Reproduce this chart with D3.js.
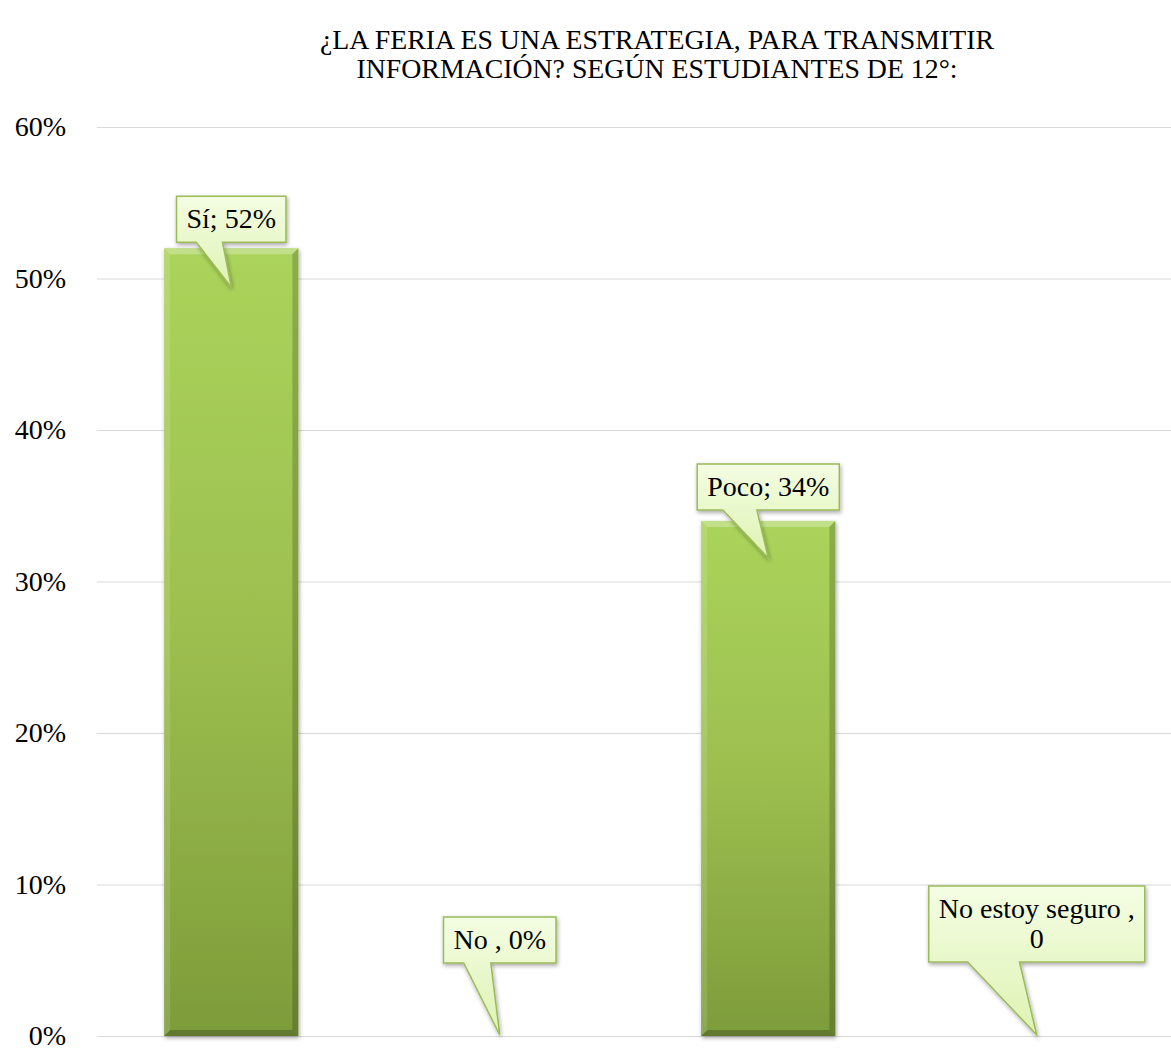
<!DOCTYPE html>
<meta charset="utf-8">
<style>
body { margin: 0; background: #fff; }
text { font-family: "Liberation Serif", "Times New Roman", serif; fill: #000; }
.grid line { stroke: #d9d9d9; stroke-width: 1; }
.tick text { font-size: 28px; font-family: "Liberation Serif", "Times New Roman", serif; }
</style>
<body>
<svg width="1171" height="1051"></svg>
<script src="https://cdn.jsdelivr.net/npm/d3@7"></script>
<script>

var titleLines = ["¿LA FERIA ES UNA ESTRATEGIA, PARA TRANSMITIR", "INFORMACIÓN? SEGÚN ESTUDIANTES DE 12°:"];
var categories = ["Sí", "No ", "Poco", "No estoy seguro "];
var values = [0.52, 0, 0.34, 0];
var labelLines = [["Sí; 52%"], ["No , 0%"], ["Poco; 34%"], ["No estoy seguro ,", "0"]];
var tickValues = [0, 0.1, 0.2, 0.3, 0.4, 0.5, 0.6];

// callout placement (tip below value, gap from tip up to box bottom)
var tipDy = [39, -1, 37, -1];
var boxGap = [45, 72, 48, 73];

var svg = d3.select("svg"),
    width = +svg.attr("width"),
    height = +svg.attr("height");

var margin = {left: 97, right: 0, top: 127, bottom: 15};

var x = d3.scaleBand()
    .domain(categories)
    .range([margin.left, width - margin.right])
    .paddingInner(0.5)
    .paddingOuter(0.25);

var y = d3.scaleLinear()
    .domain([0, 0.6])
    .range([height - margin.bottom, margin.top]);

var defs = svg.append("defs");

var bg = defs.append("linearGradient").attr("id", "barGrad")
    .attr("x1", 0).attr("y1", 0).attr("x2", 0).attr("y2", 1);
bg.append("stop").attr("offset", "0%").attr("stop-color", "#abd45b");
bg.append("stop").attr("offset", "50%").attr("stop-color", "#9cbe4f");
bg.append("stop").attr("offset", "100%").attr("stop-color", "#7d9c3a");

var cg = defs.append("linearGradient").attr("id", "callGrad")
    .attr("x1", 0).attr("y1", 0).attr("x2", 0).attr("y2", 1);
cg.append("stop").attr("offset", "0%").attr("stop-color", "#f4fde3");
cg.append("stop").attr("offset", "100%").attr("stop-color", "#def3b3");

var sh = defs.append("filter").attr("id", "shadow")
    .attr("x", "-20%").attr("y", "-20%").attr("width", "140%").attr("height", "140%");
sh.append("feDropShadow").attr("dx", 1).attr("dy", 2).attr("stdDeviation", 2)
    .attr("flood-color", "#000").attr("flood-opacity", 0.35);

// gridlines + axis labels
svg.append("g")
    .attr("class", "grid")
    .attr("transform", "translate(" + margin.left + ",0)")
    .call(d3.axisLeft(y).tickValues(tickValues).tickSize(-(width - margin.left - margin.right)).tickFormat(""))
    .call(function(g) { g.select(".domain").remove(); });

svg.append("g")
    .attr("transform", "translate(66,0)")
    .call(d3.axisLeft(y).tickValues(tickValues).tickSize(0).tickPadding(0).tickFormat(d3.format(".0%")))
    .call(function(g) { g.select(".domain").remove(); });

// title
svg.append("g").selectAll("text")
  .data(titleLines)
  .enter().append("text")
    .attr("x", 657)
    .attr("y", function(d, i) { return 49 + i * 29; })
    .attr("text-anchor", "middle")
    .style("font-size", "27.8px")
    .text(function(d) { return d; });

// bars
var bars = svg.append("g").selectAll("g")
  .data(categories.map(function(c, i) { return {cat: c, v: values[i], i: i}; }).filter(function(d) { return d.v > 0; }))
  .enter().append("g");

bars.append("rect")
    .attr("x", function(d) { return x(d.cat); })
    .attr("y", function(d) { return y(d.v); })
    .attr("width", x.bandwidth())
    .attr("height", function(d) { return y(0) - y(d.v); })
    .attr("fill", "url(#barGrad)")
    .attr("filter", "url(#shadow)");

// bevel edges
var bev = 6;
bars.each(function(d) {
  var g = d3.select(this),
      x0 = x(d.cat), x1 = x0 + x.bandwidth(),
      y0 = y(d.v), y1 = y(0);
  var sides = [
    [[x0, y0], [x1, y0], [x1 - bev, y0 + bev], [x0 + bev, y0 + bev], "#fff", 0.28],
    [[x0, y0], [x0 + bev, y0 + bev], [x0 + bev, y1 - bev], [x0, y1], "#fff", 0.12],
    [[x1, y0], [x1, y1], [x1 - bev, y1 - bev], [x1 - bev, y0 + bev], "#000", 0.18],
    [[x0, y1], [x0 + bev, y1 - bev], [x1 - bev, y1 - bev], [x1, y1], "#000", 0.22]
  ];
  sides.forEach(function(s) {
    g.append("path")
      .attr("d", "M" + s.slice(0, 4).join("L") + "Z")
      .attr("fill", s[4])
      .attr("fill-opacity", s[5]);
  });
});

// callouts
var lineH = 30, padX = 10, padY = 8;
var calls = svg.append("g").selectAll("g")
  .data(categories.map(function(c, i) { return {cat: c, v: values[i], i: i, lines: labelLines[i]}; }))
  .enter().append("g");

calls.each(function(d) {
  var g = d3.select(this);
  var tx = x(d.cat) + x.bandwidth() / 2,
      ty = y(d.v) + tipDy[d.i];
  var shape = g.append("path");
  var txt = g.append("g");
  var wMax = 0;
  d.lines.forEach(function(l) {
    var t = txt.append("text").attr("text-anchor", "middle").style("font-size", "28px").text(l);
    wMax = Math.max(wMax, t.node().getComputedTextLength());
  });
  var bw = wMax + 2 * padX,
      bh = d.lines.length * lineH + 2 * padY,
      bx = tx - bw / 2,
      byB = ty - boxGap[d.i],
      byT = byB - bh;
  var a = bx + bw * 0.18, b = bx + bw * 0.42;
  shape.attr("d", "M" + [[bx, byT], [bx + bw, byT], [bx + bw, byB], [b, byB], [tx, ty], [a, byB], [bx, byB]].join("L") + "Z")
    .attr("fill", "url(#callGrad)")
    .attr("stroke", "#9bbb59")
    .attr("stroke-width", 1.5)
    .attr("stroke-linejoin", "miter")
    .attr("filter", "url(#shadow)");
  txt.selectAll("text")
    .attr("x", tx)
    .attr("y", function(l, k) { return byT + padY + lineH * k + 24; });
});

</script>
</body>
